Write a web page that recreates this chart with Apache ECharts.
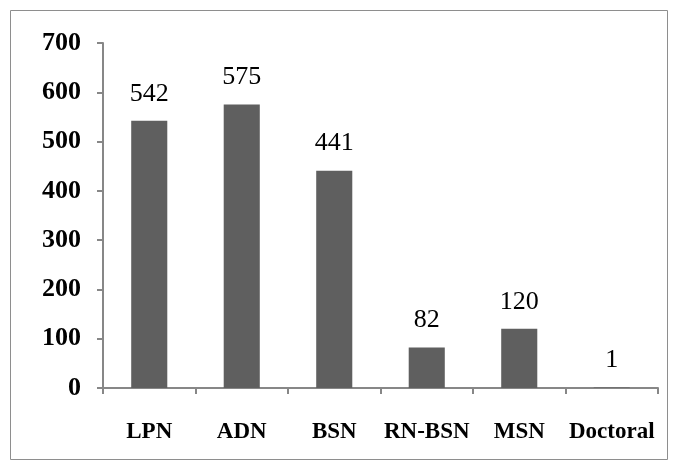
<!DOCTYPE html>
<html>
<head>
<meta charset="utf-8">
<script src="https://cdn.jsdelivr.net/npm/echarts@6/dist/echarts.min.js"></script>
<style>html,body{margin:0;padding:0;background:#fff}#c{width:679px;height:471px}</style>
</head>
<body>
<div id="c"></div>
<script>
const categories = ['LPN', 'ADN', 'BSN', 'RN-BSN', 'MSN', 'Doctoral'];
const values = [542, 575, 441, 82, 120, 1];
const yTicks = [0, 100, 200, 300, 400, 500, 600, 700];

const chart = echarts.init(document.getElementById('c'), null, {renderer: 'canvas'});
const serif = '"Liberation Serif", "Times New Roman", serif';
const axisColor = '#878787';
chart.setOption({
  animation: false,
  backgroundColor: '#fff',
  graphic: [{
    type: 'rect',
    shape: {x: 10.5, y: 10.5, width: 657, height: 449},
    style: {fill: 'none', stroke: '#8e8e8e', lineWidth: 1}
  }],
  grid: {left: 103, right: 21, top: 43, bottom: 83},
  xAxis: {
    type: 'category',
    data: categories,
    axisLine: {lineStyle: {color: axisColor, width: 2}},
    axisTick: {show: true, length: 6, lineStyle: {color: axisColor, width: 2}},
    axisLabel: {interval: 0, color: '#000', fontFamily: serif, fontWeight: 'bold', fontSize: 23, margin: 33}
  },
  yAxis: {
    type: 'value',
    min: yTicks[0], max: yTicks[yTicks.length - 1], interval: 100,
    splitLine: {show: false},
    axisLine: {show: true, lineStyle: {color: axisColor, width: 2}},
    axisTick: {show: true, length: 6, lineStyle: {color: axisColor, width: 2}},
    axisLabel: {color: '#000', fontFamily: serif, fontWeight: 'bold', fontSize: 26, margin: 22}
  },
  series: [{
    type: 'bar',
    data: values,
    barWidth: '39%',
    itemStyle: {color: '#5f5f5f'},
    label: {show: true, position: 'top', distance: 14, color: '#000', fontFamily: serif, fontSize: 26}
  }]
});
</script>
</body>
</html>
